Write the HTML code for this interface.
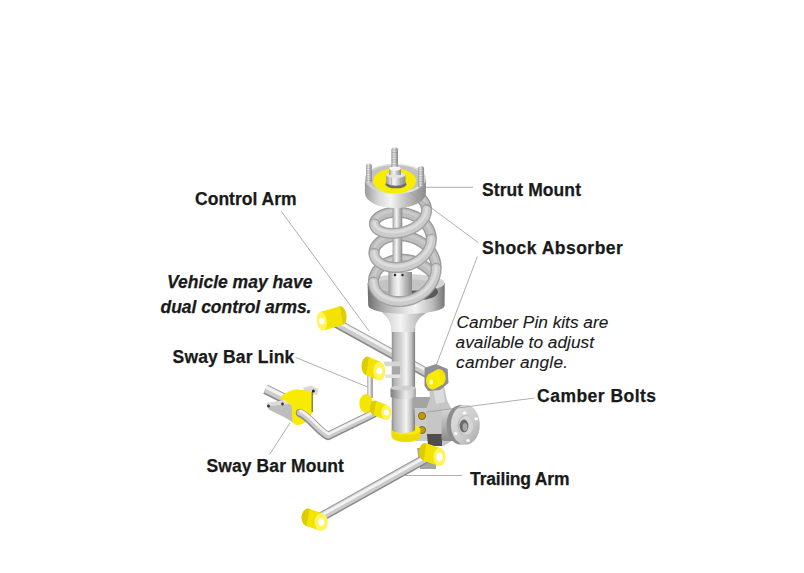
<!DOCTYPE html>
<html><head><meta charset="utf-8">
<style>
html,body{margin:0;padding:0;background:#fff;}
body{width:804px;height:573px;position:relative;overflow:hidden;font-family:"Liberation Sans",sans-serif;color:#1a1a1a;}
.t{position:absolute;white-space:nowrap;line-height:1;font-weight:bold;font-size:17.5px;-webkit-text-stroke:0.25px #1a1a1a;}
.i{font-style:italic;}
.n{font-weight:normal;font-size:17.3px;-webkit-text-stroke:0.1px #1a1a1a;}
svg{position:absolute;left:0;top:0;}
</style></head><body>
<svg width="804" height="573" viewBox="0 0 804 573">
<defs>
<linearGradient id="gv" x1="0" y1="0" x2="1" y2="0">
<stop offset="0" stop-color="#9a9a9a"/><stop offset="0.22" stop-color="#d8d8d8"/><stop offset="0.42" stop-color="#f4f4f4"/><stop offset="0.7" stop-color="#bcbcbc"/><stop offset="1" stop-color="#8a8a8a"/>
</linearGradient>
<linearGradient id="gv2" x1="0" y1="0" x2="1" y2="0">
<stop offset="0" stop-color="#8c8c8c"/><stop offset="0.3" stop-color="#d6d6d6"/><stop offset="0.55" stop-color="#eeeeee"/><stop offset="0.8" stop-color="#c4c4c4"/><stop offset="1" stop-color="#9c9c9c"/>
</linearGradient>
<linearGradient id="gtop" x1="0" y1="0" x2="1" y2="0">
<stop offset="0" stop-color="#c8c8c8"/><stop offset="0.5" stop-color="#ececec"/><stop offset="1" stop-color="#d6d6d6"/>
</linearGradient>
<linearGradient id="gcoil" x1="0" y1="0" x2="0" y2="1">
<stop offset="0" stop-color="#dcdcdc"/><stop offset="0.5" stop-color="#c4c4c4"/><stop offset="1" stop-color="#a8a8a8"/>
</linearGradient>
<linearGradient id="gy" x1="0" y1="0" x2="1" y2="0">
<stop offset="0" stop-color="#e8d800"/><stop offset="0.5" stop-color="#fff200"/><stop offset="1" stop-color="#f0e000"/>
</linearGradient>
<linearGradient id="ghub" x1="0" y1="0" x2="0" y2="1"><stop offset="0" stop-color="#d4d4d4"/><stop offset="0.35" stop-color="#bcbcbc"/><stop offset="1" stop-color="#8c8c8c"/></linearGradient>
<linearGradient id="gfl" x1="0" y1="0" x2="1" y2="1"><stop offset="0" stop-color="#e2e2e2"/><stop offset="0.6" stop-color="#cacaca"/><stop offset="1" stop-color="#a4a4a4"/></linearGradient>
<linearGradient id="gtube" x1="0" y1="0" x2="1" y2="0">
<stop offset="0" stop-color="#8e8e8e"/><stop offset="0.12" stop-color="#b4b4b4"/><stop offset="0.4" stop-color="#d4d4d4"/><stop offset="0.62" stop-color="#f4f4f4"/><stop offset="0.85" stop-color="#bcbcbc"/><stop offset="1" stop-color="#7c7c7c"/>
</linearGradient>
<linearGradient id="gcol" x1="0" y1="0" x2="1" y2="0">
<stop offset="0" stop-color="#7e7e7e"/><stop offset="0.25" stop-color="#a8a8a8"/><stop offset="0.6" stop-color="#ececec"/><stop offset="0.85" stop-color="#cfcfcf"/><stop offset="1" stop-color="#a0a0a0"/>
</linearGradient>
<linearGradient id="gcup" x1="0" y1="0" x2="1" y2="0">
<stop offset="0" stop-color="#6e6e6e"/><stop offset="0.18" stop-color="#a6a6a6"/><stop offset="0.5" stop-color="#e6e6e6"/><stop offset="0.62" stop-color="#f2f2f2"/><stop offset="0.85" stop-color="#b8b8b8"/><stop offset="1" stop-color="#747474"/>
</linearGradient>
</defs>
<path d="M265.5,389.2 L284,398.5" fill="none" stroke="#8a8a8a" stroke-width="10" stroke-linecap="butt" stroke-linejoin="round"/><path d="M265.5,389.2 L284,398.5" fill="none" stroke="#cbcbcb" stroke-width="7.8" stroke-linecap="butt" stroke-linejoin="round" transform="translate(0.20,-0.52)"/><path d="M265.5,389.2 L284,398.5" fill="none" stroke="#f2f2f2" stroke-width="3.2" stroke-linecap="butt" stroke-linejoin="round" transform="translate(0.75,-1.95)"/>
<path d="M267,403 L283,400.5 L292,405 L293,422.5 L284,417 L268.5,409.5 Z" fill="#bdbdbd"/>
<path d="M267,403 L283,400.5 L290,404 L270,406 Z" fill="#dcdcdc"/>
<circle cx="268.5" cy="406" r="1.5" fill="#333"/><circle cx="282.5" cy="404" r="1.4" fill="#333"/>
<path d="M303,388 L311,385.5 L318,389 L317.5,394.5 L306,395 Z" fill="#d8d8d8"/><circle cx="313.4" cy="390.9" r="1.5" fill="#222"/>
<path d="M280,397.5 Q288,390 297,389.2 L311.7,391.3 L312.2,412.3 Q309,424 297,425.3 Q293,424 292.5,421 L291.6,405.3 Z" fill="#f8ea00"/>

<line x1="312.2" y1="392" x2="312.2" y2="412" stroke="#554d00" stroke-width="1"/>
<path d="M300,413 C311,418 318,431 328,436 L373,414" fill="none" stroke="#8a8a8a" stroke-width="8.5" stroke-linecap="round" stroke-linejoin="round"/><path d="M300,413 C311,418 318,431 328,436 L373,414" fill="none" stroke="#cbcbcb" stroke-width="6.3" stroke-linecap="round" stroke-linejoin="round" transform="translate(0.16,-0.52)"/><path d="M300,413 C311,418 318,431 328,436 L373,414" fill="none" stroke="#f2f2f2" stroke-width="2.7" stroke-linecap="round" stroke-linejoin="round" transform="translate(0.60,-1.95)"/>
<path d="M336,323 L432,376" fill="none" stroke="#8a8a8a" stroke-width="9.5" stroke-linecap="round" stroke-linejoin="round"/><path d="M336,323 L432,376" fill="none" stroke="#cbcbcb" stroke-width="7.3" stroke-linecap="round" stroke-linejoin="round" transform="translate(0.20,-0.52)"/><path d="M336,323 L432,376" fill="none" stroke="#f2f2f2" stroke-width="3.0" stroke-linecap="round" stroke-linejoin="round" transform="translate(0.75,-1.95)"/>
<ellipse cx="341.5" cy="315.5" rx="5" ry="9.4" transform="rotate(-8 341.5 315.5)" fill="#dccc00"/><path d="M323.5,330.4 L343.2,324.7 L339.8,306.3 L320.1,312.0 Z" fill="#f2e400"/><ellipse cx="321.8" cy="321.2" rx="5" ry="9.4" transform="rotate(-8 321.8 321.2)" fill="#fff45a"/><ellipse cx="321.8" cy="321.2" rx="2.8" ry="3.3" transform="rotate(-8 321.8 321.2)" fill="#ffffff"/>
<rect x="391.8" y="312" width="23.3" height="125" fill="url(#gtube)"/>
<path d="M390.5,388 L390.5,397 Q403,401.5 415.9,397 L415.9,388 Z" fill="url(#gcol)"/>
<ellipse cx="403.2" cy="388" rx="12.7" ry="2.5" fill="#cfcfcf"/>
<path d="M392,366 L400,366 L400,374.5 L392,374.5 Z" fill="#a8a8a8"/>
<path d="M383.5,361.5 L400.5,361.5 L400.5,366.2 L385,366.2 Z" fill="#d6d6d6"/>
<path d="M384.5,374.5 L400.5,374.5 L400.5,378 L386,378 Z" fill="#e2e2e2"/>
<path d="M374,306 C384,314 391,318 391.8,332 L414.6,332 C415,318 424,314 438,306 Z" fill="url(#gv)"/>
<path d="M367.6,283 L368.2,305.5 A38.2,8.5 0 0 0 444.6,305.5 L444.8,283 Z" fill="url(#gcup)"/>
<ellipse cx="406.2" cy="283" rx="38.6" ry="9" fill="#d4d4d4"/>
<ellipse cx="418" cy="292" rx="20" ry="8" fill="#5a5a5a"/>
<ellipse cx="404" cy="285" rx="32" ry="6" fill="#c4c4c4"/>
<path d="M400.1,189.0 L401.1,189.2 L402.1,189.4 L403.1,189.6 L404.1,189.8 L405.1,190.0 L406.1,190.3 L407.1,190.6 L408.1,190.9 L409.0,191.2 L410.0,191.5 L410.9,191.9 L411.9,192.3 L412.8,192.7 L413.7,193.1 L414.5,193.6 L415.4,194.0 L416.2,194.5 L417.0,195.0 L417.8,195.6 L418.5,196.1 L419.3,196.7 L419.9,197.2 L420.6,197.8 L421.2,198.4 L421.8,199.0 L422.4,199.7 L422.9,200.3 L423.4,201.0 L423.9,201.7 L424.3,202.3 L424.7,203.0 L425.1,203.7 L425.4,204.5 L425.7,205.2 L425.9,205.9 L426.1,206.6 L426.3,207.4 L426.4,208.1 L426.5,208.9M374.5,223.4 L374.5,222.9 L374.6,222.4 L374.8,221.9 L375.0,221.4 L375.2,220.9 L375.5,220.4 L375.8,219.9 L376.1,219.4 L376.5,218.9 L377.0,218.5 L377.4,218.0 L377.9,217.6 L378.5,217.1 L379.1,216.7 L379.7,216.3 L380.4,215.9 L381.1,215.5 L381.8,215.1 L382.5,214.8 L383.3,214.5 L384.2,214.1 L385.0,213.8 L385.9,213.6 L386.8,213.3 L387.7,213.1 L388.7,212.9 L389.7,212.7 L390.6,212.6 L391.7,212.4 L392.7,212.3 L393.7,212.2 L394.8,212.2 L395.9,212.1 L397.0,212.1 L398.1,212.2 L399.2,212.2 L400.3,212.3 L401.4,212.4 L402.5,212.6 L403.6,212.7 L404.7,212.9 L405.9,213.2 L407.0,213.4 L408.1,213.7 L409.2,214.0 L410.3,214.4 L411.3,214.7 L412.4,215.2 L413.4,215.6 L414.5,216.0 L415.5,216.5 L416.5,217.1 L417.5,217.6 L418.4,218.2 L419.3,218.8 L420.2,219.4 L421.1,220.0 L422.0,220.7 L422.8,221.4 L423.6,222.1 L424.3,222.9 L425.0,223.6 L425.7,224.4 L426.4,225.2 L427.0,226.0 L427.6,226.9 L428.1,227.7 L428.6,228.6 L429.1,229.5 L429.5,230.4 L429.9,231.3 L430.2,232.2 L430.5,233.1 L430.7,234.1 L430.9,235.0 L431.1,236.0 L431.2,236.9 L431.3,237.9M374.0,252.6 L374.0,251.9 L374.1,251.2 L374.2,250.4 L374.4,249.7 L374.6,249.0 L374.8,248.3 L375.1,247.6 L375.5,246.9 L375.9,246.2 L376.3,245.6 L376.8,244.9 L377.4,244.3 L377.9,243.6 L378.6,243.0 L379.2,242.4 L379.9,241.8 L380.6,241.3 L381.4,240.7 L382.2,240.2 L383.1,239.7 L383.9,239.2 L384.8,238.8 L385.8,238.4 L386.8,238.0 L387.8,237.6 L388.8,237.3 L389.8,237.0 L390.9,236.7 L392.0,236.5 L393.1,236.3 L394.3,236.1 L395.4,235.9 L396.6,235.8 L397.8,235.8 L399.0,235.7 L400.2,235.7 L401.4,235.8 L402.6,235.8 L403.8,236.0 L405.0,236.1 L406.2,236.3 L407.5,236.5 L408.7,236.8 L409.9,237.1 L411.1,237.4 L412.3,237.8 L413.5,238.2 L414.7,238.7 L415.8,239.1 L417.0,239.7 L418.1,240.2 L419.2,240.8 L420.3,241.5 L421.3,242.1 L422.3,242.8 L423.3,243.5 L424.3,244.3 L425.3,245.1 L426.2,245.9 L427.1,246.8 L427.9,247.7 L428.7,248.6 L429.5,249.5 L430.2,250.5 L430.9,251.4 L431.6,252.5 L432.2,253.5 L432.8,254.5 L433.3,255.6 L433.8,256.7 L434.3,257.8 L434.6,258.9 L435.0,260.0 L435.3,261.2 L435.6,262.3 L435.8,263.5 L435.9,264.7 L436.0,265.8 L436.1,267.0M373.5,281.2 L373.5,280.3 L373.6,279.3 L373.7,278.4 L373.9,277.5 L374.2,276.6 L374.5,275.7 L374.9,274.8 L375.3,273.9 L375.7,273.0 L376.2,272.1 L376.7,271.3 L377.3,270.4 L378.0,269.6 L378.6,268.8 L379.4,268.1 L380.1,267.3 L381.0,266.6 L381.8,265.9 L382.7,265.2 L383.6,264.6 L384.6,264.0 L385.6,263.4 L386.6,262.8 L387.7,262.3 L388.8,261.9 L389.9,261.4 L391.0,261.0 L392.2,260.7 L393.4,260.3 L394.6,260.1 L395.9,259.8 L397.1,259.6 L398.4,259.5 L399.7,259.4 L401.0,259.3 L402.3,259.3 L403.6,259.3 L404.9,259.4 L406.3,259.5 L407.6,259.7 L408.9,259.9 L410.2,260.1 L411.6,260.4 L412.9,260.8 L414.2,261.2 L415.5,261.6 L416.8,262.1 L418.0,262.6 L419.3,263.2 L420.5,263.8 L421.7,264.5 L422.9,265.2 L424.1,265.9 L425.2,266.7 L426.3,267.5 L427.4,268.4 L428.5,269.3 L429.5,270.2 L430.5,271.2 L431.4,272.2 L432.3,273.3 L433.2,274.4 L434.0,275.5" fill="none" stroke="#9a9a9a" stroke-width="11" stroke-linecap="round" stroke-linejoin="round"/><path d="M400.1,189.0 L401.1,189.2 L402.1,189.4 L403.1,189.6 L404.1,189.8 L405.1,190.0 L406.1,190.3 L407.1,190.6 L408.1,190.9 L409.0,191.2 L410.0,191.5 L410.9,191.9 L411.9,192.3 L412.8,192.7 L413.7,193.1 L414.5,193.6 L415.4,194.0 L416.2,194.5 L417.0,195.0 L417.8,195.6 L418.5,196.1 L419.3,196.7 L419.9,197.2 L420.6,197.8 L421.2,198.4 L421.8,199.0 L422.4,199.7 L422.9,200.3 L423.4,201.0 L423.9,201.7 L424.3,202.3 L424.7,203.0 L425.1,203.7 L425.4,204.5 L425.7,205.2 L425.9,205.9 L426.1,206.6 L426.3,207.4 L426.4,208.1 L426.5,208.9M374.5,223.4 L374.5,222.9 L374.6,222.4 L374.8,221.9 L375.0,221.4 L375.2,220.9 L375.5,220.4 L375.8,219.9 L376.1,219.4 L376.5,218.9 L377.0,218.5 L377.4,218.0 L377.9,217.6 L378.5,217.1 L379.1,216.7 L379.7,216.3 L380.4,215.9 L381.1,215.5 L381.8,215.1 L382.5,214.8 L383.3,214.5 L384.2,214.1 L385.0,213.8 L385.9,213.6 L386.8,213.3 L387.7,213.1 L388.7,212.9 L389.7,212.7 L390.6,212.6 L391.7,212.4 L392.7,212.3 L393.7,212.2 L394.8,212.2 L395.9,212.1 L397.0,212.1 L398.1,212.2 L399.2,212.2 L400.3,212.3 L401.4,212.4 L402.5,212.6 L403.6,212.7 L404.7,212.9 L405.9,213.2 L407.0,213.4 L408.1,213.7 L409.2,214.0 L410.3,214.4 L411.3,214.7 L412.4,215.2 L413.4,215.6 L414.5,216.0 L415.5,216.5 L416.5,217.1 L417.5,217.6 L418.4,218.2 L419.3,218.8 L420.2,219.4 L421.1,220.0 L422.0,220.7 L422.8,221.4 L423.6,222.1 L424.3,222.9 L425.0,223.6 L425.7,224.4 L426.4,225.2 L427.0,226.0 L427.6,226.9 L428.1,227.7 L428.6,228.6 L429.1,229.5 L429.5,230.4 L429.9,231.3 L430.2,232.2 L430.5,233.1 L430.7,234.1 L430.9,235.0 L431.1,236.0 L431.2,236.9 L431.3,237.9M374.0,252.6 L374.0,251.9 L374.1,251.2 L374.2,250.4 L374.4,249.7 L374.6,249.0 L374.8,248.3 L375.1,247.6 L375.5,246.9 L375.9,246.2 L376.3,245.6 L376.8,244.9 L377.4,244.3 L377.9,243.6 L378.6,243.0 L379.2,242.4 L379.9,241.8 L380.6,241.3 L381.4,240.7 L382.2,240.2 L383.1,239.7 L383.9,239.2 L384.8,238.8 L385.8,238.4 L386.8,238.0 L387.8,237.6 L388.8,237.3 L389.8,237.0 L390.9,236.7 L392.0,236.5 L393.1,236.3 L394.3,236.1 L395.4,235.9 L396.6,235.8 L397.8,235.8 L399.0,235.7 L400.2,235.7 L401.4,235.8 L402.6,235.8 L403.8,236.0 L405.0,236.1 L406.2,236.3 L407.5,236.5 L408.7,236.8 L409.9,237.1 L411.1,237.4 L412.3,237.8 L413.5,238.2 L414.7,238.7 L415.8,239.1 L417.0,239.7 L418.1,240.2 L419.2,240.8 L420.3,241.5 L421.3,242.1 L422.3,242.8 L423.3,243.5 L424.3,244.3 L425.3,245.1 L426.2,245.9 L427.1,246.8 L427.9,247.7 L428.7,248.6 L429.5,249.5 L430.2,250.5 L430.9,251.4 L431.6,252.5 L432.2,253.5 L432.8,254.5 L433.3,255.6 L433.8,256.7 L434.3,257.8 L434.6,258.9 L435.0,260.0 L435.3,261.2 L435.6,262.3 L435.8,263.5 L435.9,264.7 L436.0,265.8 L436.1,267.0M373.5,281.2 L373.5,280.3 L373.6,279.3 L373.7,278.4 L373.9,277.5 L374.2,276.6 L374.5,275.7 L374.9,274.8 L375.3,273.9 L375.7,273.0 L376.2,272.1 L376.7,271.3 L377.3,270.4 L378.0,269.6 L378.6,268.8 L379.4,268.1 L380.1,267.3 L381.0,266.6 L381.8,265.9 L382.7,265.2 L383.6,264.6 L384.6,264.0 L385.6,263.4 L386.6,262.8 L387.7,262.3 L388.8,261.9 L389.9,261.4 L391.0,261.0 L392.2,260.7 L393.4,260.3 L394.6,260.1 L395.9,259.8 L397.1,259.6 L398.4,259.5 L399.7,259.4 L401.0,259.3 L402.3,259.3 L403.6,259.3 L404.9,259.4 L406.3,259.5 L407.6,259.7 L408.9,259.9 L410.2,260.1 L411.6,260.4 L412.9,260.8 L414.2,261.2 L415.5,261.6 L416.8,262.1 L418.0,262.6 L419.3,263.2 L420.5,263.8 L421.7,264.5 L422.9,265.2 L424.1,265.9 L425.2,266.7 L426.3,267.5 L427.4,268.4 L428.5,269.3 L429.5,270.2 L430.5,271.2 L431.4,272.2 L432.3,273.3 L433.2,274.4 L434.0,275.5" fill="none" stroke="#bebebe" stroke-width="8.2" stroke-linecap="round" stroke-linejoin="round"/><path d="M400.1,187.7 L401.1,187.9 L402.1,188.1 L403.1,188.3 L404.1,188.5 L405.1,188.7 L406.1,189.0 L407.1,189.3 L408.1,189.6 L409.0,189.9 L410.0,190.2 L410.9,190.6 L411.9,191.0 L412.8,191.4 L413.7,191.8 L414.5,192.3 L415.4,192.7 L416.2,193.2 L417.0,193.7 L417.8,194.3 L418.5,194.8 L419.3,195.4 L419.9,195.9 L420.6,196.5 L421.2,197.1 L421.8,197.7 L422.4,198.4 L422.9,199.0 L423.4,199.7 L423.9,200.4 L424.3,201.0 L424.7,201.7 L425.1,202.4 L425.4,203.2 L425.7,203.9 L425.9,204.6 L426.1,205.3 L426.3,206.1 L426.4,206.8 L426.5,207.6M374.5,222.1 L374.5,221.6 L374.6,221.1 L374.8,220.6 L375.0,220.1 L375.2,219.6 L375.5,219.1 L375.8,218.6 L376.1,218.1 L376.5,217.6 L377.0,217.2 L377.4,216.7 L377.9,216.3 L378.5,215.8 L379.1,215.4 L379.7,215.0 L380.4,214.6 L381.1,214.2 L381.8,213.8 L382.5,213.5 L383.3,213.2 L384.2,212.8 L385.0,212.5 L385.9,212.3 L386.8,212.0 L387.7,211.8 L388.7,211.6 L389.7,211.4 L390.6,211.3 L391.7,211.1 L392.7,211.0 L393.7,210.9 L394.8,210.9 L395.9,210.8 L397.0,210.8 L398.1,210.9 L399.2,210.9 L400.3,211.0 L401.4,211.1 L402.5,211.3 L403.6,211.4 L404.7,211.6 L405.9,211.9 L407.0,212.1 L408.1,212.4 L409.2,212.7 L410.3,213.1 L411.3,213.4 L412.4,213.9 L413.4,214.3 L414.5,214.7 L415.5,215.2 L416.5,215.8 L417.5,216.3 L418.4,216.9 L419.3,217.5 L420.2,218.1 L421.1,218.7 L422.0,219.4 L422.8,220.1 L423.6,220.8 L424.3,221.6 L425.0,222.3 L425.7,223.1 L426.4,223.9 L427.0,224.7 L427.6,225.6 L428.1,226.4 L428.6,227.3 L429.1,228.2 L429.5,229.1 L429.9,230.0 L430.2,230.9 L430.5,231.8 L430.7,232.8 L430.9,233.7 L431.1,234.7 L431.2,235.6 L431.3,236.6M374.0,251.3 L374.0,250.6 L374.1,249.9 L374.2,249.1 L374.4,248.4 L374.6,247.7 L374.8,247.0 L375.1,246.3 L375.5,245.6 L375.9,244.9 L376.3,244.3 L376.8,243.6 L377.4,243.0 L377.9,242.3 L378.6,241.7 L379.2,241.1 L379.9,240.5 L380.6,240.0 L381.4,239.4 L382.2,238.9 L383.1,238.4 L383.9,237.9 L384.8,237.5 L385.8,237.1 L386.8,236.7 L387.8,236.3 L388.8,236.0 L389.8,235.7 L390.9,235.4 L392.0,235.2 L393.1,235.0 L394.3,234.8 L395.4,234.6 L396.6,234.5 L397.8,234.5 L399.0,234.4 L400.2,234.4 L401.4,234.5 L402.6,234.5 L403.8,234.7 L405.0,234.8 L406.2,235.0 L407.5,235.2 L408.7,235.5 L409.9,235.8 L411.1,236.1 L412.3,236.5 L413.5,236.9 L414.7,237.4 L415.8,237.8 L417.0,238.4 L418.1,238.9 L419.2,239.5 L420.3,240.2 L421.3,240.8 L422.3,241.5 L423.3,242.2 L424.3,243.0 L425.3,243.8 L426.2,244.6 L427.1,245.5 L427.9,246.4 L428.7,247.3 L429.5,248.2 L430.2,249.2 L430.9,250.1 L431.6,251.2 L432.2,252.2 L432.8,253.2 L433.3,254.3 L433.8,255.4 L434.3,256.5 L434.6,257.6 L435.0,258.7 L435.3,259.9 L435.6,261.0 L435.8,262.2 L435.9,263.4 L436.0,264.5 L436.1,265.7M373.5,279.9 L373.5,279.0 L373.6,278.0 L373.7,277.1 L373.9,276.2 L374.2,275.3 L374.5,274.4 L374.9,273.5 L375.3,272.6 L375.7,271.7 L376.2,270.8 L376.7,270.0 L377.3,269.1 L378.0,268.3 L378.6,267.5 L379.4,266.8 L380.1,266.0 L381.0,265.3 L381.8,264.6 L382.7,263.9 L383.6,263.3 L384.6,262.7 L385.6,262.1 L386.6,261.5 L387.7,261.0 L388.8,260.6 L389.9,260.1 L391.0,259.7 L392.2,259.4 L393.4,259.0 L394.6,258.8 L395.9,258.5 L397.1,258.3 L398.4,258.2 L399.7,258.1 L401.0,258.0 L402.3,258.0 L403.6,258.0 L404.9,258.1 L406.3,258.2 L407.6,258.4 L408.9,258.6 L410.2,258.8 L411.6,259.1 L412.9,259.5 L414.2,259.9 L415.5,260.3 L416.8,260.8 L418.0,261.3 L419.3,261.9 L420.5,262.5 L421.7,263.2 L422.9,263.9 L424.1,264.6 L425.2,265.4 L426.3,266.2 L427.4,267.1 L428.5,268.0 L429.5,268.9 L430.5,269.9 L431.4,270.9 L432.3,272.0 L433.2,273.1 L434.0,274.2" fill="none" stroke="#cacaca" stroke-width="3" stroke-linecap="round" stroke-linejoin="round"/>
<rect x="388.4" y="272" width="23.6" height="28" fill="url(#gv)"/>
<circle cx="395" cy="275" r="1.2" fill="#222"/><circle cx="402.5" cy="275" r="1.2" fill="#222"/>
<rect x="392.6" y="195" width="9.7" height="78" fill="url(#gv)"/>
<path d="M426.5,209.6 L426.5,210.4 L426.5,211.2 L426.4,211.9 L426.3,212.7 L426.1,213.4 L425.9,214.2 L425.6,214.9 L425.4,215.7 L425.0,216.4 L424.7,217.2 L424.3,217.9 L423.8,218.6 L423.4,219.3 L422.8,220.1 L422.3,220.7 L421.7,221.4 L421.1,222.1 L420.5,222.8 L419.8,223.4 L419.1,224.0 L418.3,224.7 L417.6,225.3 L416.8,225.8 L416.0,226.4 L415.1,227.0 L414.3,227.5 L413.4,228.0 L412.5,228.5 L411.5,228.9 L410.6,229.4 L409.6,229.8 L408.6,230.2 L407.6,230.6 L406.6,231.0 L405.6,231.3 L404.6,231.6 L403.6,231.9 L402.6,232.2 L401.5,232.4 L400.5,232.6 L399.4,232.8 L398.4,233.0 L397.4,233.1 L396.3,233.2 L395.3,233.3 L394.3,233.4 L393.3,233.4 L392.3,233.4 L391.3,233.4 L390.4,233.4 L389.4,233.3 L388.5,233.2 L387.6,233.1 L386.7,233.0 L385.8,232.8 L384.9,232.6 L384.1,232.4 L383.3,232.2 L382.5,232.0 L381.8,231.7 L381.1,231.4 L380.4,231.1 L379.8,230.8 L379.1,230.5 L378.6,230.1 L378.0,229.7 L377.5,229.4 L377.0,229.0 L376.6,228.6 L376.2,228.1 L375.8,227.7 L375.5,227.2 L375.2,226.8 L375.0,226.3 L374.8,225.8 L374.7,225.4 L374.5,224.9 L374.5,224.4 L374.5,223.9M431.3,238.9 L431.3,239.8 L431.2,240.8 L431.1,241.8 L431.0,242.8 L430.8,243.7 L430.5,244.7 L430.2,245.6 L429.9,246.6 L429.5,247.5 L429.1,248.5 L428.7,249.4 L428.2,250.3 L427.6,251.2 L427.1,252.1 L426.5,253.0 L425.8,253.8 L425.1,254.6 L424.4,255.5 L423.6,256.3 L422.8,257.0 L422.0,257.8 L421.2,258.5 L420.3,259.2 L419.4,259.9 L418.4,260.6 L417.5,261.2 L416.5,261.8 L415.5,262.4 L414.5,262.9 L413.4,263.5 L412.3,264.0 L411.3,264.4 L410.2,264.8 L409.1,265.2 L407.9,265.6 L406.8,265.9 L405.7,266.2 L404.5,266.5 L403.4,266.8 L402.3,267.0 L401.1,267.1 L400.0,267.3 L398.8,267.4 L397.7,267.4 L396.6,267.5 L395.5,267.5 L394.4,267.4 L393.3,267.4 L392.2,267.3 L391.1,267.1 L390.1,267.0 L389.1,266.8 L388.1,266.6 L387.1,266.3 L386.1,266.0 L385.2,265.7 L384.3,265.4 L383.5,265.0 L382.6,264.6 L381.8,264.2 L381.0,263.7 L380.3,263.3 L379.6,262.8 L378.9,262.3 L378.3,261.7 L377.7,261.2 L377.2,260.6 L376.6,260.0 L376.2,259.4 L375.8,258.7 L375.4,258.1 L375.0,257.4 L374.7,256.8 L374.5,256.1 L374.3,255.4 L374.1,254.7 L374.0,254.0 L374.0,253.3M436.1,268.2 L436.1,269.4 L436.0,270.6 L435.9,271.8 L435.7,273.0 L435.4,274.1 L435.2,275.3 L434.8,276.5 L434.5,277.6 L434.0,278.7 L433.6,279.9 L433.1,281.0 L432.5,282.1 L431.9,283.2 L431.3,284.2 L430.6,285.3 L429.9,286.3 L429.1,287.3 L428.3,288.2 L427.5,289.2 L426.6,290.1 L425.7,291.0 L424.7,291.9 L423.7,292.7 L422.7,293.5 L421.7,294.3 L420.6,295.0 L419.6,295.7 L418.5,296.4 L417.3,297.0 L416.2,297.6 L415.0,298.1 L413.8,298.6 L412.6,299.1 L411.4,299.6 L410.2,299.9 L409.0,300.3 L407.7,300.6 L406.5,300.9 L405.2,301.1 L404.0,301.3 L402.7,301.4 L401.5,301.6 L400.2,301.6 L399.0,301.6 L397.8,301.6 L396.6,301.5 L395.4,301.4 L394.2,301.3 L393.0,301.1 L391.9,300.9 L390.7,300.6 L389.6,300.3 L388.5,300.0 L387.5,299.6 L386.5,299.2 L385.5,298.7 L384.5,298.2 L383.5,297.7 L382.6,297.2 L381.8,296.6 L380.9,296.0 L380.1,295.3 L379.4,294.7 L378.7,294.0 L378.0,293.2 L377.4,292.5 L376.8,291.7 L376.2,290.9 L375.7,290.1 L375.3,289.3 L374.9,288.4 L374.5,287.5 L374.2,286.7 L374.0,285.8 L373.8,284.9 L373.6,284.0 L373.5,283.0 L373.5,282.1" fill="none" stroke="#a2a2a2" stroke-width="11" stroke-linecap="round" stroke-linejoin="round"/><path d="M426.5,209.6 L426.5,210.4 L426.5,211.2 L426.4,211.9 L426.3,212.7 L426.1,213.4 L425.9,214.2 L425.6,214.9 L425.4,215.7 L425.0,216.4 L424.7,217.2 L424.3,217.9 L423.8,218.6 L423.4,219.3 L422.8,220.1 L422.3,220.7 L421.7,221.4 L421.1,222.1 L420.5,222.8 L419.8,223.4 L419.1,224.0 L418.3,224.7 L417.6,225.3 L416.8,225.8 L416.0,226.4 L415.1,227.0 L414.3,227.5 L413.4,228.0 L412.5,228.5 L411.5,228.9 L410.6,229.4 L409.6,229.8 L408.6,230.2 L407.6,230.6 L406.6,231.0 L405.6,231.3 L404.6,231.6 L403.6,231.9 L402.6,232.2 L401.5,232.4 L400.5,232.6 L399.4,232.8 L398.4,233.0 L397.4,233.1 L396.3,233.2 L395.3,233.3 L394.3,233.4 L393.3,233.4 L392.3,233.4 L391.3,233.4 L390.4,233.4 L389.4,233.3 L388.5,233.2 L387.6,233.1 L386.7,233.0 L385.8,232.8 L384.9,232.6 L384.1,232.4 L383.3,232.2 L382.5,232.0 L381.8,231.7 L381.1,231.4 L380.4,231.1 L379.8,230.8 L379.1,230.5 L378.6,230.1 L378.0,229.7 L377.5,229.4 L377.0,229.0 L376.6,228.6 L376.2,228.1 L375.8,227.7 L375.5,227.2 L375.2,226.8 L375.0,226.3 L374.8,225.8 L374.7,225.4 L374.5,224.9 L374.5,224.4 L374.5,223.9M431.3,238.9 L431.3,239.8 L431.2,240.8 L431.1,241.8 L431.0,242.8 L430.8,243.7 L430.5,244.7 L430.2,245.6 L429.9,246.6 L429.5,247.5 L429.1,248.5 L428.7,249.4 L428.2,250.3 L427.6,251.2 L427.1,252.1 L426.5,253.0 L425.8,253.8 L425.1,254.6 L424.4,255.5 L423.6,256.3 L422.8,257.0 L422.0,257.8 L421.2,258.5 L420.3,259.2 L419.4,259.9 L418.4,260.6 L417.5,261.2 L416.5,261.8 L415.5,262.4 L414.5,262.9 L413.4,263.5 L412.3,264.0 L411.3,264.4 L410.2,264.8 L409.1,265.2 L407.9,265.6 L406.8,265.9 L405.7,266.2 L404.5,266.5 L403.4,266.8 L402.3,267.0 L401.1,267.1 L400.0,267.3 L398.8,267.4 L397.7,267.4 L396.6,267.5 L395.5,267.5 L394.4,267.4 L393.3,267.4 L392.2,267.3 L391.1,267.1 L390.1,267.0 L389.1,266.8 L388.1,266.6 L387.1,266.3 L386.1,266.0 L385.2,265.7 L384.3,265.4 L383.5,265.0 L382.6,264.6 L381.8,264.2 L381.0,263.7 L380.3,263.3 L379.6,262.8 L378.9,262.3 L378.3,261.7 L377.7,261.2 L377.2,260.6 L376.6,260.0 L376.2,259.4 L375.8,258.7 L375.4,258.1 L375.0,257.4 L374.7,256.8 L374.5,256.1 L374.3,255.4 L374.1,254.7 L374.0,254.0 L374.0,253.3M436.1,268.2 L436.1,269.4 L436.0,270.6 L435.9,271.8 L435.7,273.0 L435.4,274.1 L435.2,275.3 L434.8,276.5 L434.5,277.6 L434.0,278.7 L433.6,279.9 L433.1,281.0 L432.5,282.1 L431.9,283.2 L431.3,284.2 L430.6,285.3 L429.9,286.3 L429.1,287.3 L428.3,288.2 L427.5,289.2 L426.6,290.1 L425.7,291.0 L424.7,291.9 L423.7,292.7 L422.7,293.5 L421.7,294.3 L420.6,295.0 L419.6,295.7 L418.5,296.4 L417.3,297.0 L416.2,297.6 L415.0,298.1 L413.8,298.6 L412.6,299.1 L411.4,299.6 L410.2,299.9 L409.0,300.3 L407.7,300.6 L406.5,300.9 L405.2,301.1 L404.0,301.3 L402.7,301.4 L401.5,301.6 L400.2,301.6 L399.0,301.6 L397.8,301.6 L396.6,301.5 L395.4,301.4 L394.2,301.3 L393.0,301.1 L391.9,300.9 L390.7,300.6 L389.6,300.3 L388.5,300.0 L387.5,299.6 L386.5,299.2 L385.5,298.7 L384.5,298.2 L383.5,297.7 L382.6,297.2 L381.8,296.6 L380.9,296.0 L380.1,295.3 L379.4,294.7 L378.7,294.0 L378.0,293.2 L377.4,292.5 L376.8,291.7 L376.2,290.9 L375.7,290.1 L375.3,289.3 L374.9,288.4 L374.5,287.5 L374.2,286.7 L374.0,285.8 L373.8,284.9 L373.6,284.0 L373.5,283.0 L373.5,282.1" fill="none" stroke="#cbcbcb" stroke-width="8.2" stroke-linecap="round" stroke-linejoin="round"/><path d="M426.5,208.3 L426.5,209.1 L426.5,209.9 L426.4,210.6 L426.3,211.4 L426.1,212.1 L425.9,212.9 L425.6,213.6 L425.4,214.4 L425.0,215.1 L424.7,215.9 L424.3,216.6 L423.8,217.3 L423.4,218.0 L422.8,218.8 L422.3,219.4 L421.7,220.1 L421.1,220.8 L420.5,221.5 L419.8,222.1 L419.1,222.7 L418.3,223.4 L417.6,224.0 L416.8,224.5 L416.0,225.1 L415.1,225.7 L414.3,226.2 L413.4,226.7 L412.5,227.2 L411.5,227.6 L410.6,228.1 L409.6,228.5 L408.6,228.9 L407.6,229.3 L406.6,229.7 L405.6,230.0 L404.6,230.3 L403.6,230.6 L402.6,230.9 L401.5,231.1 L400.5,231.3 L399.4,231.5 L398.4,231.7 L397.4,231.8 L396.3,231.9 L395.3,232.0 L394.3,232.1 L393.3,232.1 L392.3,232.1 L391.3,232.1 L390.4,232.1 L389.4,232.0 L388.5,231.9 L387.6,231.8 L386.7,231.7 L385.8,231.5 L384.9,231.3 L384.1,231.1 L383.3,230.9 L382.5,230.7 L381.8,230.4 L381.1,230.1 L380.4,229.8 L379.8,229.5 L379.1,229.2 L378.6,228.8 L378.0,228.4 L377.5,228.1 L377.0,227.7 L376.6,227.3 L376.2,226.8 L375.8,226.4 L375.5,225.9 L375.2,225.5 L375.0,225.0 L374.8,224.5 L374.7,224.1 L374.5,223.6 L374.5,223.1 L374.5,222.6M431.3,237.6 L431.3,238.5 L431.2,239.5 L431.1,240.5 L431.0,241.5 L430.8,242.4 L430.5,243.4 L430.2,244.3 L429.9,245.3 L429.5,246.2 L429.1,247.2 L428.7,248.1 L428.2,249.0 L427.6,249.9 L427.1,250.8 L426.5,251.7 L425.8,252.5 L425.1,253.3 L424.4,254.2 L423.6,255.0 L422.8,255.7 L422.0,256.5 L421.2,257.2 L420.3,257.9 L419.4,258.6 L418.4,259.3 L417.5,259.9 L416.5,260.5 L415.5,261.1 L414.5,261.6 L413.4,262.2 L412.3,262.7 L411.3,263.1 L410.2,263.5 L409.1,263.9 L407.9,264.3 L406.8,264.6 L405.7,264.9 L404.5,265.2 L403.4,265.5 L402.3,265.7 L401.1,265.8 L400.0,266.0 L398.8,266.1 L397.7,266.1 L396.6,266.2 L395.5,266.2 L394.4,266.1 L393.3,266.1 L392.2,266.0 L391.1,265.8 L390.1,265.7 L389.1,265.5 L388.1,265.3 L387.1,265.0 L386.1,264.7 L385.2,264.4 L384.3,264.1 L383.5,263.7 L382.6,263.3 L381.8,262.9 L381.0,262.4 L380.3,262.0 L379.6,261.5 L378.9,261.0 L378.3,260.4 L377.7,259.9 L377.2,259.3 L376.6,258.7 L376.2,258.1 L375.8,257.4 L375.4,256.8 L375.0,256.1 L374.7,255.5 L374.5,254.8 L374.3,254.1 L374.1,253.4 L374.0,252.7 L374.0,252.0M436.1,266.9 L436.1,268.1 L436.0,269.3 L435.9,270.5 L435.7,271.7 L435.4,272.8 L435.2,274.0 L434.8,275.2 L434.5,276.3 L434.0,277.4 L433.6,278.6 L433.1,279.7 L432.5,280.8 L431.9,281.9 L431.3,282.9 L430.6,284.0 L429.9,285.0 L429.1,286.0 L428.3,286.9 L427.5,287.9 L426.6,288.8 L425.7,289.7 L424.7,290.6 L423.7,291.4 L422.7,292.2 L421.7,293.0 L420.6,293.7 L419.6,294.4 L418.5,295.1 L417.3,295.7 L416.2,296.3 L415.0,296.8 L413.8,297.3 L412.6,297.8 L411.4,298.3 L410.2,298.6 L409.0,299.0 L407.7,299.3 L406.5,299.6 L405.2,299.8 L404.0,300.0 L402.7,300.1 L401.5,300.3 L400.2,300.3 L399.0,300.3 L397.8,300.3 L396.6,300.2 L395.4,300.1 L394.2,300.0 L393.0,299.8 L391.9,299.6 L390.7,299.3 L389.6,299.0 L388.5,298.7 L387.5,298.3 L386.5,297.9 L385.5,297.4 L384.5,296.9 L383.5,296.4 L382.6,295.9 L381.8,295.3 L380.9,294.7 L380.1,294.0 L379.4,293.4 L378.7,292.7 L378.0,291.9 L377.4,291.2 L376.8,290.4 L376.2,289.6 L375.7,288.8 L375.3,288.0 L374.9,287.1 L374.5,286.2 L374.2,285.4 L374.0,284.5 L373.8,283.6 L373.6,282.7 L373.5,281.7 L373.5,280.8" fill="none" stroke="#dcdcdc" stroke-width="3" stroke-linecap="round" stroke-linejoin="round"/>
<path d="M364.9,178.8 L364.9,193 A30.5,15.2 0 0 0 425.9,193 L425.9,178.8 Z" fill="url(#gv)"/>
<ellipse cx="395.4" cy="178.8" rx="30.5" ry="15.2" fill="url(#gtop)"/>
<ellipse cx="395.4" cy="178.3" rx="28" ry="13.2" fill="#c2c2c2"/>
<ellipse cx="394.6" cy="181" rx="21.6" ry="12.6" fill="#f8ec00"/>
<path d="M391.4,168 L391.4,150.5 A3.3000000000000114,3.3000000000000114 0 0 1 398,150.5 L398,168 Z" fill="url(#gv)"/><line x1="394.7" y1="148.7" x2="394.7" y2="168" stroke="#7a7a7a" stroke-opacity="0.45" stroke-width="6.0" stroke-dasharray="0.8 0.9"/>
<path d="M366.1,182 L366.1,166.15 A2.8499999999999943,2.8499999999999943 0 0 1 371.8,166.15 L371.8,182 Z" fill="url(#gv)"/><line x1="368.95000000000005" y1="164.8" x2="368.95000000000005" y2="182" stroke="#7a7a7a" stroke-opacity="0.45" stroke-width="5.1" stroke-dasharray="0.8 0.9"/>
<path d="M418,187 L418,169.05 A3.0500000000000114,3.0500000000000114 0 0 1 424.1,169.05 L424.1,187 Z" fill="url(#gv)"/><line x1="421.05" y1="167.5" x2="421.05" y2="187" stroke="#7a7a7a" stroke-opacity="0.45" stroke-width="5.5" stroke-dasharray="0.8 0.9"/>
<ellipse cx="396" cy="184.3" rx="10.6" ry="4" fill="#6a6a6a"/>
<path d="M386.2,175 L386.2,183.5 Q396,188 405.4,183.5 L405.4,175 Z" fill="url(#gv)"/>
<line x1="391.5" y1="176" x2="391.5" y2="186" stroke="#a0a0a0" stroke-width="0.6"/>
<line x1="400.3" y1="176" x2="400.3" y2="186" stroke="#a0a0a0" stroke-width="0.6"/>
<ellipse cx="395.8" cy="175" rx="9.6" ry="3" fill="#e4e4e4"/>
<rect x="389" y="168.5" width="12" height="6.5" fill="url(#gv)"/>
<ellipse cx="395" cy="168.5" rx="6" ry="2" fill="#f6f6f6"/>
<path d="M413,397 L431,397 L431,409 L413,409 Z" fill="#a4a4a4"/>
<path d="M414.5,408 L431,408 L431,441 L416,441 Z" fill="#cbcbcb"/>
<path d="M429,386 L444,386 L447,400 L453,412 L453,440 L444,446 L430,446 L426.5,438 L426.5,408 L430,398 Z" fill="#c6c6c6"/>
<path d="M433,388 L443,388 L445,402 L436,404 Z" fill="#dcdcdc"/>
<path d="M427,434 L442,434 L442,446 L428,446 Z" fill="#4e4e4e"/>
<path d="M424.6,368 L436,364 L447.7,369 L448.5,383 L440,390 L428,391 L424.5,386 Z" fill="#8e8e98"/>
<ellipse cx="440" cy="377" rx="5.6" ry="8.2" transform="rotate(-12 440 377)" fill="#f4e400"/><path d="M434.6,389.1 L442.8,384.6 L437.2,369.4 L429.0,373.9 Z" fill="#f8ec00"/><ellipse cx="431.8" cy="381.5" rx="5.6" ry="8.2" transform="rotate(-12 431.8 381.5)" fill="#f6ea00"/>
<ellipse cx="431.2" cy="382.2" rx="1.8" ry="2.6" fill="#fffbd0"/>
<rect x="441.5" y="409.6" width="16" height="31.4" rx="3" fill="url(#ghub)"/>
<ellipse cx="460.5" cy="424.8" rx="14" ry="19.8" fill="#8e8e8e"/>
<ellipse cx="465.4" cy="424.8" rx="14.4" ry="20" fill="url(#gfl)"/>
<ellipse cx="465.6" cy="425.6" rx="8" ry="10.5" fill="#bdbdbd"/>
<ellipse cx="466.2" cy="425.4" rx="7" ry="9.6" fill="#d6d6d6"/>
<ellipse cx="464" cy="426" rx="4.4" ry="6.4" fill="#6a6a6a"/>
<ellipse cx="465" cy="427" rx="2.4" ry="4" fill="#a8a8a8"/>
<ellipse cx="464.6" cy="413" rx="1.8" ry="1.5" fill="#fff"/>
<ellipse cx="476.2" cy="418.7" rx="1.8" ry="1.5" fill="#fff"/>
<ellipse cx="455.8" cy="433.6" rx="1.8" ry="1.5" fill="#fff"/>
<ellipse cx="468" cy="440.5" rx="1.8" ry="1.5" fill="#fff"/>
<circle cx="422" cy="415.9" r="3.6" fill="#c09a10" stroke="#6a5200" stroke-width="0.7"/><circle cx="422" cy="430" r="3.6" fill="#c09a10" stroke="#6a5200" stroke-width="0.7"/>
<path d="M391.4,429 L391.6,436 A14.4,6.2 0 0 0 420.4,436 L420.4,429 Z" fill="#ecdc00"/>
<ellipse cx="405.9" cy="429.5" rx="14.5" ry="5.2" fill="#fbef00"/>
<path d="M391.8,420 L391.8,429.5 A11.65,3.6 0 0 0 415.1,429.5 L415.1,420 Z" fill="url(#gtube)"/>
<rect x="367.3" y="372" width="5.5" height="26" fill="url(#gv)"/>
<ellipse cx="367.5" cy="366" rx="6" ry="9.4" transform="rotate(0 367.5 366)" fill="#dccc00"/><path d="M381.0,361.9 L369.1,356.9 L365.9,375.1 L377.8,380.1 Z" fill="#f2e400"/><ellipse cx="379.4" cy="371" rx="6" ry="9.4" transform="rotate(0 379.4 371)" fill="#fff45a"/><ellipse cx="379.4" cy="371" rx="3" ry="3.2" transform="rotate(0 379.4 371)" fill="#ffffff"/>
<ellipse cx="366" cy="403.5" rx="6.7" ry="9.5" fill="#f4e600"/>
<ellipse cx="375" cy="408" rx="5.2" ry="7.5" transform="rotate(0 375 408)" fill="#dccc00"/><path d="M387.7,405.3 L376.3,400.8 L373.7,415.2 L385.1,419.7 Z" fill="#f2e400"/><ellipse cx="386.4" cy="412.5" rx="5.2" ry="7.5" transform="rotate(0 386.4 412.5)" fill="#fff45a"/><ellipse cx="386.4" cy="412.5" rx="2.8" ry="2.8" transform="rotate(0 386.4 412.5)" fill="#ffffff"/>
<path d="M417,448 L436,448 L436,469 L420,469 Z" fill="#a4a4a4"/>
<path d="M321,517 L424,459.5" fill="none" stroke="#8a8a8a" stroke-width="9.5" stroke-linecap="round" stroke-linejoin="round"/><path d="M321,517 L424,459.5" fill="none" stroke="#cbcbcb" stroke-width="7.3" stroke-linecap="round" stroke-linejoin="round" transform="translate(0.20,-0.52)"/><path d="M321,517 L424,459.5" fill="none" stroke="#f2f2f2" stroke-width="3.0" stroke-linecap="round" stroke-linejoin="round" transform="translate(0.75,-1.95)"/>
<ellipse cx="308" cy="517.5" rx="6.6" ry="8.9" transform="rotate(0 308 517.5)" fill="#dccc00"/><path d="M322.8,513.4 L309.6,508.9 L306.4,526.1 L319.6,530.6 Z" fill="#f2e400"/><ellipse cx="321.2" cy="522" rx="6.6" ry="8.9" transform="rotate(0 321.2 522)" fill="#fff45a"/><ellipse cx="321.2" cy="522" rx="3" ry="3.8" transform="rotate(0 321.2 522)" fill="#ffffff"/>
<ellipse cx="425" cy="452" rx="6.2" ry="9" transform="rotate(0 425 452)" fill="#dccc00"/><path d="M441.0,448.2 L426.4,443.2 L423.6,460.8 L438.2,465.8 Z" fill="#f2e400"/><ellipse cx="439.6" cy="457" rx="6.2" ry="9" transform="rotate(0 439.6 457)" fill="#fff45a"/><ellipse cx="439.6" cy="457" rx="3.1" ry="4.4" transform="rotate(0 439.6 457)" fill="#ffffff"/>
<g stroke="#9a9a9a" stroke-width="0.8" fill="none">
<line x1="420" y1="187.3" x2="473" y2="187.3"/>
<line x1="410.5" y1="192.5" x2="478.5" y2="242.8"/>
<line x1="477.4" y1="256.4" x2="434" y2="371"/>
<line x1="281.2" y1="211.2" x2="369" y2="331"/>
<line x1="295.6" y1="357.4" x2="367" y2="386.8"/>
<line x1="269.5" y1="454.4" x2="290" y2="423"/>
<line x1="426.6" y1="412" x2="534.5" y2="398"/>
<line x1="402" y1="475.5" x2="462" y2="475.5"/>
</g>
</svg>
<div class="t" style="left:195.1px;top:190.6px">Control Arm</div>
<div class="t i" style="left:167.1px;top:274.0px;letter-spacing:0px">Vehicle may have</div>
<div class="t i" style="left:160.6px;top:298.9px;letter-spacing:-0.05px">dual control arms.</div>
<div class="t" style="left:482.1px;top:182.0px;letter-spacing:0.07px">Strut Mount</div>
<div class="t" style="left:482.1px;top:239.9px;letter-spacing:0.48px">Shock Absorber</div>
<div class="t i n" style="left:456.6px;top:314.0px">Camber Pin kits are</div>
<div class="t i n" style="left:455.6px;top:334.0px">available to adjust</div>
<div class="t i n" style="left:456.1px;top:353.7px;letter-spacing:0.2px">camber angle.</div>
<div class="t" style="left:537.1px;top:388.0px;letter-spacing:0.47px">Camber Bolts</div>
<div class="t" style="left:172.6px;top:348.8px;letter-spacing:0.17px">Sway Bar Link</div>
<div class="t" style="left:206.6px;top:458.2px;letter-spacing:0.08px">Sway Bar Mount</div>
<div class="t" style="left:470.1px;top:470.5px;letter-spacing:-0.19px">Trailing Arm</div>
</body></html>
